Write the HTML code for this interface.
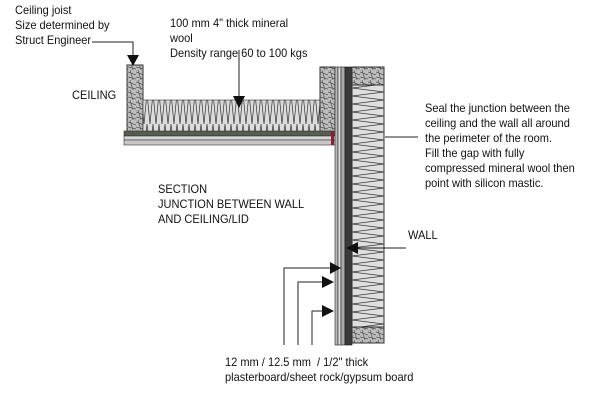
<!DOCTYPE html>
<html><head><style>
html,body{margin:0;padding:0;background:#fff;}
body{width:600px;height:405px;position:relative;overflow:hidden;font-family:"Liberation Sans",sans-serif;}
.t{position:absolute;font-size:12px;line-height:15px;color:#111;white-space:nowrap;transform:scaleX(0.92);transform-origin:left top;}
</style></head><body>
<svg width="600" height="405" style="position:absolute;left:0;top:0">
<defs>
<pattern id="wood" width="8" height="10" patternUnits="userSpaceOnUse">
<rect width="8" height="10" fill="#bdbdbd"/>
<path d="M0 2 L8 5 M0 7 L8 9 M2 0 L5 10" stroke="#555" stroke-width="0.7" fill="none"/>
</pattern>
<pattern id="wool" width="6" height="31" patternUnits="userSpaceOnUse">
<rect width="6" height="31" fill="#dcdcdc"/>
<path d="M0 31 L3 0 L6 31" stroke="#333" stroke-width="0.7" fill="none"/>
</pattern>
<pattern id="wwool" width="32" height="8" patternUnits="userSpaceOnUse">
<rect width="32" height="8" fill="#dedede"/>
<path d="M0 0 L32 4 L0 8" stroke="#333" stroke-width="0.7" fill="none"/>
</pattern>
</defs>
<!-- ceiling -->
<rect x="127" y="65" width="16" height="67" fill="url(#wood)" stroke="#333"/>
<rect x="143" y="100" width="177" height="32" fill="url(#wool)" stroke="#333" stroke-width="0.6"/>
<rect x="320" y="67" width="15" height="65" fill="url(#wood)" stroke="#333"/>
<rect x="124" y="131" width="212" height="5" fill="#555d50" stroke="#333" stroke-width="0.6"/>
<rect x="124" y="136" width="212" height="4" fill="#d8d8d8" stroke="#333" stroke-width="0.6"/>
<rect x="124" y="140" width="212" height="5" fill="#c8c8c8" stroke="#333" stroke-width="0.6"/>
<rect x="331" y="131" width="3" height="14" fill="#8a2030"/>
<!-- wall -->
<rect x="335" y="67" width="3" height="278" fill="#bbb" stroke="#222" stroke-width="0.6"/>
<rect x="338" y="67" width="3" height="278" fill="#ddd" stroke="#222" stroke-width="0.6"/>
<rect x="341" y="67" width="4" height="278" fill="#aaa" stroke="#222" stroke-width="0.6"/>
<rect x="345" y="67" width="7" height="278" fill="#3a3a3a" stroke="#111" stroke-width="0.6"/>
<rect x="352" y="67" width="32" height="18" fill="url(#wood)" stroke="#333"/>
<rect x="352" y="85" width="32" height="242" fill="url(#wwool)" stroke="#333"/>
<rect x="352" y="327" width="32" height="16" fill="url(#wood)" stroke="#333"/>
<!-- leaders -->
<g stroke="#222" stroke-width="1" fill="none">
<path d="M92 42 H133 V58"/>
<path d="M239 50 V96"/>
<path d="M385 137 H418"/>
<path d="M352 248 H406"/>
<path d="M284 345 V268 H330"/>
<path d="M298 345 V282 H322"/>
<path d="M312 345 V311 H322"/>
</g>
<g fill="#111">
<polygon points="127,55 139,55 133,66"/>
<polygon points="233,96 245,96 239,108"/>
<polygon points="346,248 358,242 358,254"/>
<polygon points="330,262 341,268 330,274"/>
<polygon points="322,276 334,282 322,288"/>
<polygon points="322,305 334,311 322,317"/>
</g>
</svg>
<div class="t" style="left:15px;top:3px">Ceiling joist<br>Size determined by<br>Struct Engineer</div>
<div class="t" style="left:170px;top:16px">100 mm 4" thick mineral<br>wool<br>Density range 60 to 100 kgs</div>
<div class="t" style="left:72px;top:88px">CEILING</div>
<div class="t" style="left:425px;top:101px">Seal the junction between the<br>ceiling and the wall all around<br>the perimeter of the room.<br>Fill the gap with fully<br>compressed mineral wool then<br>point with silicon mastic.</div>
<div class="t" style="left:158px;top:182px">SECTION<br>JUNCTION BETWEEN WALL<br>AND CEILING/LID</div>
<div class="t" style="left:408px;top:228px">WALL</div>
<div class="t" style="left:225px;top:355px">12 mm / 12.5 mm&nbsp; / 1/2" thick<br>plasterboard/sheet rock/gypsum board</div>
</body></html>
